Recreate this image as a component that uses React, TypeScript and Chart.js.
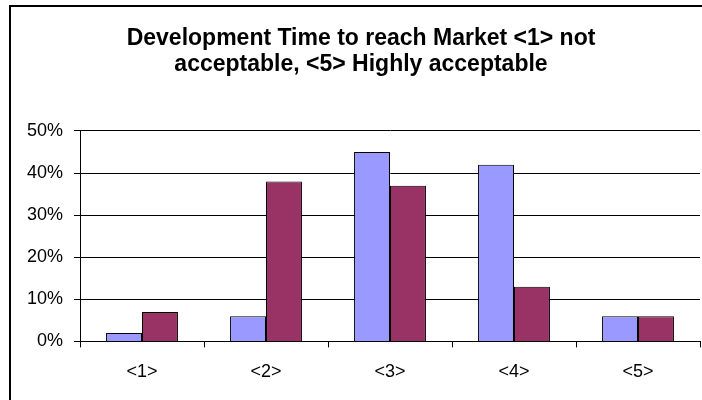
import React, { useEffect, useRef } from 'react';
import { Chart, registerables } from 'chart.js';

Chart.register(...registerables);

const categories = ['<1>', '<2>', '<3>', '<4>', '<5>'];
const seriesA = [2, 6, 45, 42, 6];
const seriesB = [7, 38, 37, 13, 6];
const yTicks = [0, 10, 20, 30, 40, 50];
const titleLines = ['Development Time to reach Market <1> not', 'acceptable, <5> Highly acceptable'];

const FONT = '"Liberation Sans", Arial, sans-serif';

export default function App() {
  const ref = useRef<HTMLCanvasElement | null>(null);

  useEffect(() => {
    if (!ref.current) return;
    const chart = new Chart(ref.current, {
      type: 'bar',
      data: {
        labels: categories,
        datasets: [
          {
            label: 'Series 1',
            data: seriesA,
            backgroundColor: '#9999FF',
            borderColor: '#000000',
            borderWidth: 1,
            categoryPercentage: 0.58,
            barPercentage: 1,
          },
          {
            label: 'Series 2',
            data: seriesB,
            backgroundColor: '#993366',
            borderColor: '#000000',
            borderWidth: 1,
            categoryPercentage: 0.58,
            barPercentage: 1,
          },
        ],
      },
      options: {
        responsive: false,
        animation: false,
        devicePixelRatio: 1,
        layout: { padding: { left: 22, right: 2, top: 0, bottom: 3 } },
        plugins: {
          legend: { display: false },
          tooltip: { enabled: false },
          title: {
            display: true,
            text: titleLines,
            color: '#000000',
            font: { family: FONT, size: 23, weight: 'bold', lineHeight: 1.13 },
            padding: { top: 26, bottom: 53 },
          },
        },
        scales: {
          x: {
            grid: {
              display: true,
              drawOnChartArea: false,
              drawTicks: true,
              tickLength: 6,
              color: '#000000',
              offset: true,
            },
            border: { display: true, color: '#000000', width: 1 },
            ticks: {
              color: '#000000',
              font: { family: FONT, size: 18, lineHeight: 1.2 },
              padding: 14,
              maxRotation: 0,
            },
          },
          y: {
            min: 0,
            max: 50,
            afterBuildTicks: (scale: any) => {
              scale.ticks = yTicks.map((v) => ({ value: v }));
            },
            afterFit: (scale: any) => {
              scale.width = 58;
            },
            grid: {
              color: '#000000',
              lineWidth: 1,
              drawTicks: true,
              tickLength: 6,
            },
            border: { display: true, color: '#000000', width: 1 },
            ticks: {
              color: '#000000',
              font: { family: FONT, size: 18, lineHeight: 1.2 },
              padding: 11,
              callback: (v: any) => `${v}%`,
            },
          },
        },
      },
    });
    return () => chart.destroy();
  }, []);

  return (
    <div style={{ position: 'fixed', left: 0, top: 0, width: 702, height: 400, overflow: 'hidden', background: '#ffffff' }}>
      <canvas ref={ref} width={702} height={400} style={{ position: 'absolute', left: 0, top: 0, width: 702, height: 400 }} />
      <div
        style={{
          position: 'absolute',
          left: 9,
          top: 5,
          width: 800,
          height: 500,
          border: '2px solid #000000',
          boxSizing: 'border-box',
          pointerEvents: 'none',
        }}
      />
    </div>
  );
}
